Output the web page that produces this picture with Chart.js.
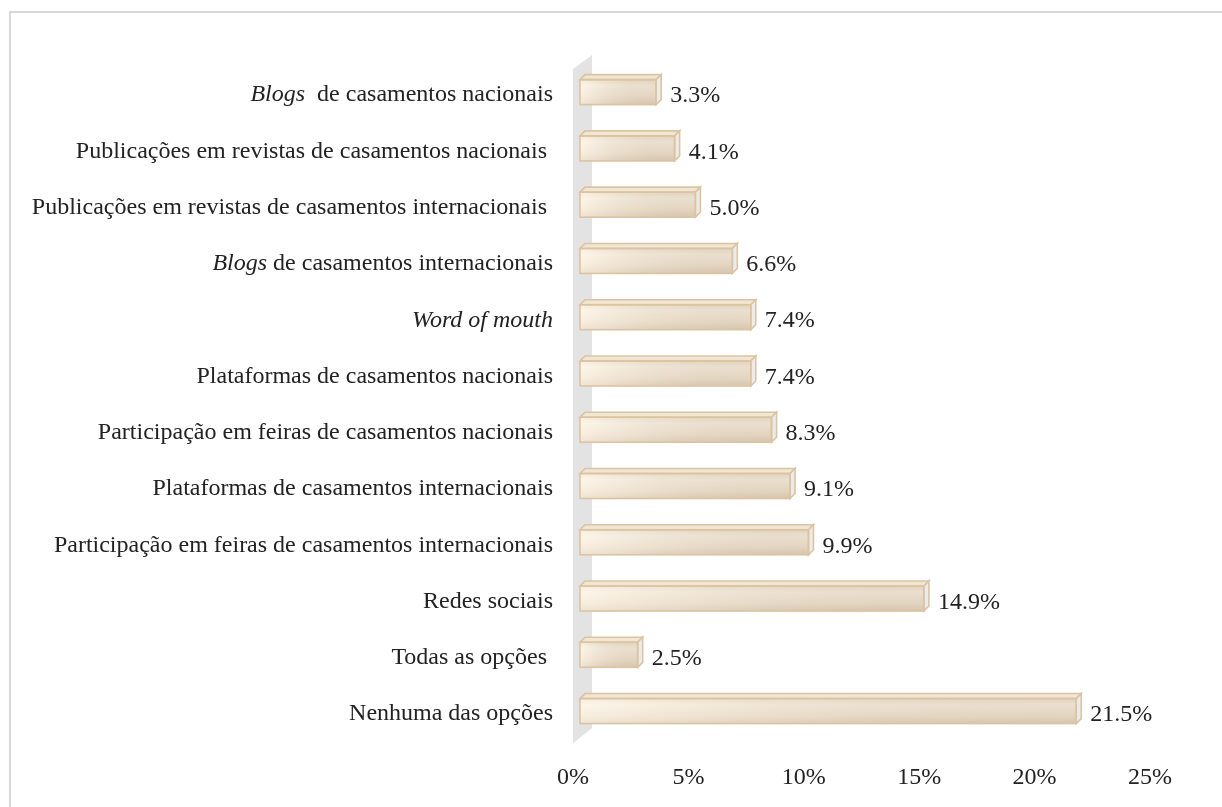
<!DOCTYPE html>
<html>
<head>
<meta charset="utf-8">
<script src="https://cdn.jsdelivr.net/npm/chart.js@4/dist/chart.umd.min.js"></script>
<style>
  html, body { margin: 0; padding: 0; background: #fff; overflow: hidden; }
  #frame { position: absolute; left: 9px; top: 11px; width: 1260px; height: 840px; border: 2px solid #d9d9d9; }
  #chart { position: absolute; left: 0; top: 0; }
</style>
</head>
<body>
<div id="frame"></div>
<canvas id="chart" width="1222" height="831"></canvas>
<script>
// Channels used to find wedding suppliers (share of answers)
// Text between asterisks is drawn in italics.
var categories = [
  '*Blogs*  de casamentos nacionais',
  'Publicações em revistas de casamentos nacionais ',
  'Publicações em revistas de casamentos internacionais ',
  '*Blogs* de casamentos internacionais',
  '*Word of mouth*',
  'Plataformas de casamentos nacionais',
  'Participação em feiras de casamentos nacionais',
  'Plataformas de casamentos internacionais',
  'Participação em feiras de casamentos internacionais',
  'Redes sociais',
  'Todas as opções ',
  'Nenhuma das opções'
];
var shares = [3.3, 4.1, 5.0, 6.6, 7.4, 7.4, 8.3, 9.1, 9.9, 14.9, 2.5, 21.5];
var xTicks = [0, 5, 10, 15, 20, 25];

var FONT = 'Liberation Serif, "Times New Roman", serif';
var TEXT = '#222222';
var EDGE = '#dbc4a2';
var DEPTH = 5;

function splitLabel(label) {
  var parts = label.split('*');
  var segs = [];
  for (var i = 0; i < parts.length; i++) {
    if (parts[i] !== '') segs.push({ text: parts[i], italic: i % 2 === 1 });
  }
  return segs;
}

// grey side wall behind the bars
var wallPlugin = {
  id: 'wall',
  beforeDatasetsDraw: function (chart) {
    var ca = chart.chartArea;
    var ctx = chart.ctx;
    ctx.save();
    ctx.fillStyle = '#e3e3e3';
    ctx.beginPath();
    ctx.moveTo(ca.left - 7, ca.top + 5);
    ctx.lineTo(ca.left + 12, ca.top - 9);
    ctx.lineTo(ca.left + 12, ca.bottom - 11);
    ctx.lineTo(ca.left - 7, ca.bottom + 4);
    ctx.closePath();
    ctx.fill();
    ctx.restore();
  }
};

// front shading, top and side faces, value labels
var barsPlugin = {
  id: 'bars3d',
  afterDatasetsDraw: function (chart) {
    var ctx = chart.ctx;
    var meta = chart.getDatasetMeta(0);
    var values = chart.data.datasets[0].data;
    ctx.save();
    meta.data.forEach(function (el, i) {
      var p = el.getProps(['x', 'y', 'base', 'height'], true);
      var left = p.base, right = p.x;
      var top = p.y - p.height / 2, bottom = p.y + p.height / 2;
      var d = DEPTH;

      var g = ctx.createLinearGradient(0, top, 0, bottom);
      g.addColorStop(0, '#f2e3cd');
      g.addColorStop(0.25, '#fbf2e4');
      g.addColorStop(0.7, '#f2e4d0');
      g.addColorStop(1, '#e2d2bc');
      ctx.fillStyle = g;
      ctx.fillRect(left, top, right - left, bottom - top);

      var h = ctx.createLinearGradient(left, 0, right, 0);
      h.addColorStop(0, 'rgba(255,250,240,0.45)');
      h.addColorStop(1, 'rgba(160,140,115,0.18)');
      ctx.fillStyle = h;
      ctx.fillRect(left, top, right - left, bottom - top);

      ctx.strokeStyle = EDGE;
      ctx.lineWidth = 1.6;

      ctx.beginPath();
      ctx.moveTo(left, top);
      ctx.lineTo(left + d, top - d);
      ctx.lineTo(right + d, top - d);
      ctx.lineTo(right, top);
      ctx.closePath();
      ctx.fillStyle = '#f1e5d3';
      ctx.fill();
      ctx.stroke();

      ctx.beginPath();
      ctx.moveTo(right, top);
      ctx.lineTo(right + d, top - d);
      ctx.lineTo(right + d, bottom - d);
      ctx.lineTo(right, bottom);
      ctx.closePath();
      ctx.fillStyle = '#ebebeb';
      ctx.fill();
      ctx.stroke();

      ctx.strokeRect(left, top, right - left, bottom - top);

      ctx.fillStyle = TEXT;
      ctx.font = '24px ' + FONT;
      ctx.textAlign = 'left';
      ctx.textBaseline = 'middle';
      ctx.fillText(values[i].toFixed(1) + '%', right + d + 9, p.y + 4);
    });
    ctx.restore();
  }
};

// category names with italic parts, right aligned next to the wall
var categoryLabelsPlugin = {
  id: 'categoryLabels',
  afterDraw: function (chart) {
    var ctx = chart.ctx;
    var yScale = chart.scales.y;
    var rightEdge = 553;
    ctx.save();
    ctx.fillStyle = TEXT;
    ctx.textBaseline = 'middle';
    ctx.textAlign = 'left';
    chart.data.labels.forEach(function (label, i) {
      var y = yScale.getPixelForTick(i) + 3;
      var segs = splitLabel(label);
      var total = 0;
      segs.forEach(function (s) {
        ctx.font = (s.italic ? 'italic ' : '') + '24px ' + FONT;
        s.width = ctx.measureText(s.text).width;
        total += s.width;
      });
      var x = rightEdge - total;
      segs.forEach(function (s) {
        ctx.font = (s.italic ? 'italic ' : '') + '24px ' + FONT;
        ctx.fillText(s.text, x, y);
        x += s.width;
      });
    });
    ctx.restore();
  }
};

var ctx = document.getElementById('chart').getContext('2d');
new Chart(ctx, {
  type: 'bar',
  data: {
    labels: categories,
    datasets: [{
      data: shares,
      backgroundColor: '#f6ebdb',
      borderWidth: 0,
      barThickness: 25
    }]
  },
  options: {
    indexAxis: 'y',
    responsive: false,
    animation: false,
    layout: { padding: { left: 580, right: 65, top: 64, bottom: 15 } },
    plugins: {
      legend: { display: false },
      tooltip: { enabled: false }
    },
    scales: {
      x: {
        min: 0,
        max: 25,
        afterBuildTicks: function (scale) {
          scale.ticks = xTicks.map(function (v) { return { value: v }; });
        },
        grid: { display: false, drawTicks: false },
        border: { display: false },
        ticks: {
          padding: 24,
          labelOffset: -7,
          color: TEXT,
          font: { family: FONT, size: 24 },
          callback: function (v) { return v + '%'; }
        }
      },
      y: {
        display: false
      }
    }
  },
  plugins: [wallPlugin, barsPlugin, categoryLabelsPlugin]
});
</script>
</body>
</html>
